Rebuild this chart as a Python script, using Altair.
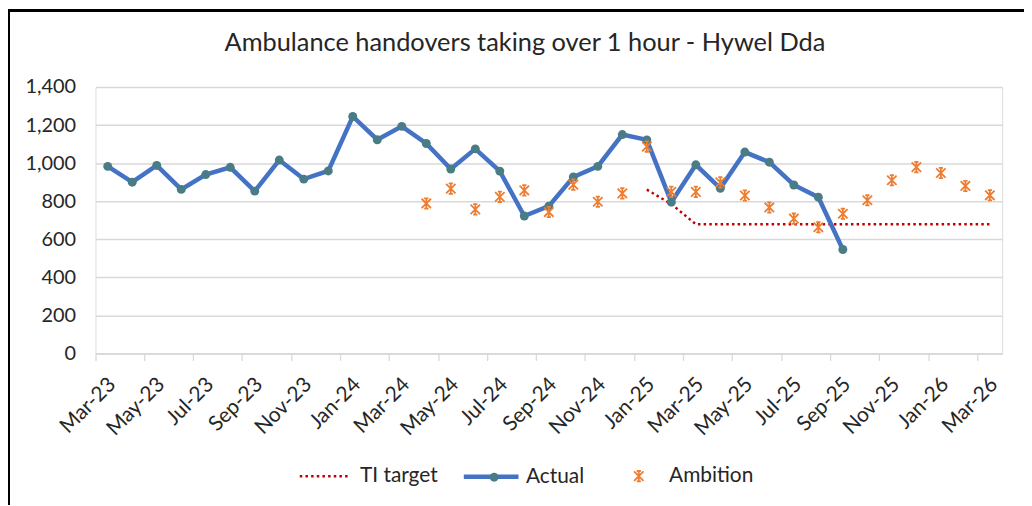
import altair as alt
import pandas as pd

# ---------------- data ----------------
months = ["Mar-23", "Apr-23", "May-23", "Jun-23", "Jul-23", "Aug-23", "Sep-23", "Oct-23",
          "Nov-23", "Dec-23", "Jan-24", "Feb-24", "Mar-24", "Apr-24", "May-24", "Jun-24",
          "Jul-24", "Aug-24", "Sep-24", "Oct-24", "Nov-24", "Dec-24", "Jan-25", "Feb-25",
          "Mar-25", "Apr-25", "May-25", "Jun-25", "Jul-25", "Aug-25", "Sep-25", "Oct-25",
          "Nov-25", "Dec-25", "Jan-26", "Feb-26", "Mar-26"]

tick_label_months = ["Mar-23", "May-23", "Jul-23", "Sep-23", "Nov-23", "Jan-24", "Mar-24",
                     "May-24", "Jul-24", "Sep-24", "Nov-24", "Jan-25", "Mar-25", "May-25",
                     "Jul-25", "Sep-25", "Nov-25", "Jan-26", "Mar-26"]

# Actual: Mar-23 .. Sep-25
actual = [983, 900, 988, 862, 940, 978, 853, 1016, 916, 959,
          1245, 1123, 1193, 1103, 969, 1075, 958, 722, 774, 927, 983, 1150,
          1122, 795, 991, 868, 1058, 1005, 885, 821, 546]

# Ambition: Apr-24 .. Mar-26
ambition = [788, 866, 757, 823, 857, 743, 887, 797, 841,
            1087, 849, 849, 899, 830, 767, 708, 663, 734, 805, 910, 979,
            948, 880, 831]

# TI target: Jan-25 .. Mar-26
ti_target = [861, 785, 679, 679, 679, 679, 679, 679, 679, 679, 679, 679, 679, 679, 679]

y_ticks = [0, 200, 400, 600, 800, 1000, 1200, 1400]

df_actual = pd.DataFrame({"month": months[:len(actual)], "value": actual, "series": "Actual"})
df_amb = pd.DataFrame({"month": months[len(months) - len(ambition):], "value": ambition,
                       "amb": "Ambition"})
df_tgt = pd.DataFrame({"month": months[len(months) - len(ti_target):], "value": ti_target,
                       "tgt": "TI target"})

# ---------------- styling ----------------
FONT = "Lato"
W, H = 912, 268
PAD = {"left": 88, "top": 78, "right": 22, "bottom": 152}

BLUE = "#4472C4"
TEAL = "#4A7C85"
ORANGE = "#ED7D31"
RED = "#C00000"
GRID = "#D9D9D9"
TEXT = "#262626"

ASTER = "M-1,-1L1,1M-1,1L1,-1M0,-1.1L0,1.1M-0.45,-1.1L0.45,-1.1M-0.45,1.1L0.45,1.1"

x_enc = alt.X(
    "month:O",
    sort=months,
    scale=alt.Scale(type="band", domain=months, paddingInner=0, paddingOuter=0),
    axis=alt.Axis(
        values=tick_label_months, bandPosition=0, labelOffset=-3,
        labelAngle=-45, labelFont=FONT, labelFontSize=21, labelColor=TEXT,
        labelPadding=13, tickColor=GRID, tickSize=7, tickWidth=1.3,
        domainColor=GRID, domainWidth=1.5, grid=False, title=None,
    ),
)
y_enc = alt.Y(
    "value:Q",
    scale=alt.Scale(domain=[0, 1400], nice=False),
    axis=alt.Axis(
        values=y_ticks, format=",.0f", grid=True, gridColor=GRID, gridWidth=1.5,
        domain=False, ticks=False, labelFont=FONT, labelFontSize=20,
        labelColor=TEXT, labelPadding=20, title=None,
    ),
)

legend_common = dict(orient="none", title=None, padding=0, labelFont=FONT,
                     labelFontSize=21, labelColor=TEXT)

target = alt.Chart(df_tgt).mark_line(color=RED, strokeWidth=2.5).encode(
    x=x_enc, y=y_enc,
    strokeDash=alt.StrokeDash(
        "tgt:N", scale=alt.Scale(range=[[2.5, 3.2]]),
        legend=alt.Legend(legendX=204, legendY=365, symbolType="stroke", symbolSize=2500,
                          symbolStrokeWidth=2.5, symbolStrokeColor=RED,
                          labelOffset=9, **legend_common),
    ),
)

actual_line = alt.Chart(df_actual).mark_line(strokeWidth=4.5).encode(
    x=x_enc, y=y_enc,
    stroke=alt.Stroke(
        "series:N", scale=alt.Scale(range=[BLUE]),
        legend=alt.Legend(legendX=368, legendY=362, symbolType="stroke", symbolSize=3025,
                          symbolStrokeWidth=4.5, labelOffset=5, **legend_common),
    ),
)

actual_pts = alt.Chart(df_actual).transform_calculate(pt="'Actual'").mark_point(
    filled=True, shape="circle", size=81, opacity=1
).encode(
    x=x_enc, y=y_enc,
    fill=alt.Fill(
        "pt:N", scale=alt.Scale(range=[TEAL]),
        legend=alt.Legend(legendX=390.5, legendY=382, symbolType="circle", symbolSize=81,
                          symbolStrokeWidth=0, labelExpr="''", **legend_common),
    ),
)

amb_pts = alt.Chart(df_amb).mark_point(
    filled=False, size=90, strokeWidth=1.8, color=ORANGE, opacity=1
).encode(
    x=x_enc, y=y_enc,
    shape=alt.Shape(
        "amb:N", scale=alt.Scale(range=[ASTER]),
        legend=alt.Legend(legendX=536, legendY=381, symbolSize=90, symbolStrokeWidth=1.8,
                          symbolStrokeColor=ORANGE, symbolFillColor="transparent",
                          labelOffset=20, **legend_common),
    ),
)

frame_left = alt.Chart(df_tgt).mark_rule(color="#000000", strokeWidth=2, clip=False).encode(
    x=alt.value(-87), y=alt.value(-78), y2=alt.value(H + PAD["bottom"])
)
frame_top = alt.Chart(df_tgt).mark_rule(color="#000000", strokeWidth=2, clip=False).encode(
    x=alt.value(-88), x2=alt.value(W + PAD["right"]), y=alt.value(-77)
)

chart = alt.layer(
    target, actual_line, actual_pts, amb_pts, frame_left, frame_top
).resolve_scale(
    strokeDash="independent", stroke="independent", fill="independent", shape="independent"
).properties(
    width=W, height=H,
    autosize=alt.AutoSizeParams(type="none"),
    padding=PAD,
    title=alt.TitleParams(
        "Ambulance handovers taking over 1 hour - Hywel Dda",
        font=FONT, fontSize=25.5, fontWeight="normal", color=TEXT,
        anchor="middle", frame="group", dx=-24, offset=0, dy=68, baseline="alphabetic",
    ),
).configure_view(stroke=None).configure(background="white")

chart.save("out.html", embed_options={"renderer": "svg", "actions": False})
